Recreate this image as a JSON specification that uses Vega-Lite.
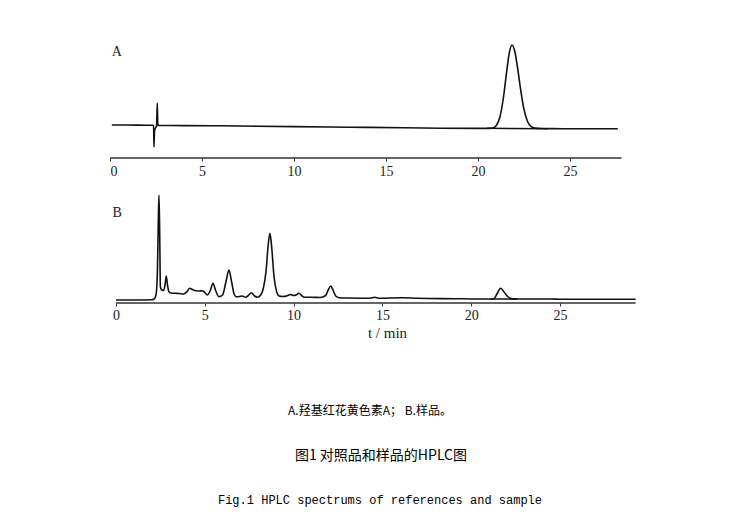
{
  "$schema": "https://vega.github.io/schema/vega-lite/v6.json",
  "background": "white",
  "padding": {"left": 108, "top": 40, "right": 5, "bottom": 5},
  "bounds": "flush",
  "spacing": 32,
  "config": {"view": {"stroke": null}, "font": "Liberation Serif"},
  "vconcat": [
    {
      "width": 526,
      "height": 118,
      "layer": [
        {
          "data": {"values": [{"t0": 0, "t1": 27.8, "v": 0}]},
          "mark": {"type": "rule", "color": "#333", "strokeWidth": 1.3},
          "encoding": {
            "x": {"field": "t0", "type": "quantitative", "scale": {"domain": [0, 28.59], "nice": false, "zero": false},
              "axis": {"values": [0, 5, 10, 15, 20, 25], "domain": false, "grid": false, "tickSize": 3, "tickColor": "#333", "labelFont": "Liberation Serif", "labelFontSize": 14, "labelColor": "#222", "labelPadding": 3, "title": null}},
            "x2": {"field": "t1"},
            "y": {"field": "v", "type": "quantitative", "scale": {"domain": [0, 118], "nice": false}, "axis": null}
          }
        },
        {
          "data": {"values": [
            {"s": "trace", "t": 0.1, "v": 33}, {"s": "trace", "t": 1.0, "v": 33}, {"s": "trace", "t": 2.0, "v": 32.8},
            {"s": "trace", "t": 2.3, "v": 32.8}, {"s": "trace", "t": 2.37, "v": 32.6}, {"s": "trace", "t": 2.39, "v": 11},
            {"s": "trace", "t": 2.42, "v": 27}, {"s": "trace", "t": 2.47, "v": 30}, {"s": "trace", "t": 2.53, "v": 32},
            {"s": "trace", "t": 2.57, "v": 55}, {"s": "trace", "t": 2.6, "v": 33}, {"s": "trace", "t": 2.7, "v": 32.5},
            {"s": "trace", "t": 4, "v": 32.4}, {"s": "trace", "t": 6, "v": 32.2}, {"s": "trace", "t": 8, "v": 31.8},
            {"s": "trace", "t": 10, "v": 31.4}, {"s": "trace", "t": 12, "v": 31}, {"s": "trace", "t": 14, "v": 30.6},
            {"s": "trace", "t": 16, "v": 30.2}, {"s": "trace", "t": 18, "v": 29.8}, {"s": "trace", "t": 20, "v": 29.6},
            {"s": "trace", "t": 20.6, "v": 29.6}, {"s": "trace", "t": 20.8, "v": 30.0}, {"s": "trace", "t": 21.0, "v": 32.5},
            {"s": "trace", "t": 21.2, "v": 41.5}, {"s": "trace", "t": 21.4, "v": 62.5}, {"s": "trace", "t": 21.55, "v": 84.8},
            {"s": "trace", "t": 21.7, "v": 104.8}, {"s": "trace", "t": 21.85, "v": 113}, {"s": "trace", "t": 22.0, "v": 106.7},
            {"s": "trace", "t": 22.15, "v": 90.6}, {"s": "trace", "t": 22.3, "v": 70.9}, {"s": "trace", "t": 22.5, "v": 48.8},
            {"s": "trace", "t": 22.7, "v": 36.3}, {"s": "trace", "t": 22.9, "v": 31.3}, {"s": "trace", "t": 23.1, "v": 29.9},
            {"s": "trace", "t": 23.5, "v": 29.5}, {"s": "trace", "t": 24, "v": 29.4}, {"s": "trace", "t": 26, "v": 29.2},
            {"s": "trace", "t": 27.6, "v": 29.2},
            {"s": "base", "t": 20.5, "v": 29.7}, {"s": "base", "t": 23.8, "v": 29.2}
          ]},
          "mark": {"type": "line", "color": "#111", "strokeWidth": 1.6, "interpolate": "monotone"},
          "encoding": {
            "x": {"field": "t", "type": "quantitative"},
            "y": {"field": "v", "type": "quantitative"},
            "detail": {"field": "s"}
          }
        },
        {
          "data": {"values": [{"label": "A"}]},
          "mark": {"type": "text", "font": "Liberation Serif", "fontSize": 14, "align": "left", "baseline": "middle", "color": "#222"},
          "encoding": {
            "x": {"datum": 0.1, "type": "quantitative"},
            "y": {"datum": 106, "type": "quantitative"},
            "text": {"field": "label"}
          }
        }
      ]
    },
    {
      "width": 526,
      "height": 113,
      "layer": [
        {
          "data": {"values": [{"t0": 0, "t1": 29.26, "v": 0}]},
          "mark": {"type": "rule", "color": "#333", "strokeWidth": 1.5},
          "encoding": {
            "x": {"field": "t0", "type": "quantitative", "scale": {"domain": [-0.338, 29.28], "nice": false, "zero": false},
              "axis": {"values": [0, 5, 10, 15, 20, 25], "domain": false, "grid": false, "tickSize": 3, "tickColor": "#333", "labelFont": "Liberation Serif", "labelFontSize": 14, "labelColor": "#222", "labelPadding": 2,
                "title": "t / min", "titleFont": "Liberation Serif", "titleFontSize": 15, "titleFontWeight": "normal", "titleColor": "#222", "titlePadding": 3, "titleX": 277}},
            "x2": {"field": "t1"},
            "y": {"field": "v", "type": "quantitative", "scale": {"domain": [0, 113], "nice": false}, "axis": null}
          }
        },
        {
          "data": {"values": [
            {"s": "trace", "t": 0, "v": 3}, {"s": "trace", "t": 1.0, "v": 3}, {"s": "trace", "t": 2.0, "v": 3.2},
            {"s": "trace", "t": 2.15, "v": 4}, {"s": "trace", "t": 2.25, "v": 8}, {"s": "trace", "t": 2.33, "v": 30},
            {"s": "trace", "t": 2.38, "v": 80}, {"s": "trace", "t": 2.42, "v": 108}, {"s": "trace", "t": 2.46, "v": 70},
            {"s": "trace", "t": 2.5, "v": 16}, {"s": "trace", "t": 2.58, "v": 13}, {"s": "trace", "t": 2.68, "v": 12.5},
            {"s": "trace", "t": 2.76, "v": 18}, {"s": "trace", "t": 2.83, "v": 27}, {"s": "trace", "t": 2.9, "v": 18},
            {"s": "trace", "t": 2.98, "v": 11.3}, {"s": "trace", "t": 3.1, "v": 10}, {"s": "trace", "t": 3.3, "v": 9.7},
            {"s": "trace", "t": 3.55, "v": 9.5}, {"s": "trace", "t": 3.8, "v": 9}, {"s": "trace", "t": 4.0, "v": 11.5},
            {"s": "trace", "t": 4.15, "v": 14.7}, {"s": "trace", "t": 4.3, "v": 13.5}, {"s": "trace", "t": 4.5, "v": 12.3},
            {"s": "trace", "t": 4.7, "v": 12}, {"s": "trace", "t": 4.86, "v": 12.3}, {"s": "trace", "t": 5.0, "v": 10.5},
            {"s": "trace", "t": 5.14, "v": 8}, {"s": "trace", "t": 5.3, "v": 12}, {"s": "trace", "t": 5.46, "v": 19.7},
            {"s": "trace", "t": 5.6, "v": 13}, {"s": "trace", "t": 5.8, "v": 6.3}, {"s": "trace", "t": 6.0, "v": 8},
            {"s": "trace", "t": 6.2, "v": 22}, {"s": "trace", "t": 6.36, "v": 33}, {"s": "trace", "t": 6.5, "v": 22},
            {"s": "trace", "t": 6.65, "v": 9}, {"s": "trace", "t": 6.78, "v": 6.3}, {"s": "trace", "t": 6.95, "v": 6.5},
            {"s": "trace", "t": 7.11, "v": 7}, {"s": "trace", "t": 7.3, "v": 5.7}, {"s": "trace", "t": 7.45, "v": 7.5},
            {"s": "trace", "t": 7.62, "v": 10.3}, {"s": "trace", "t": 7.8, "v": 7}, {"s": "trace", "t": 7.96, "v": 5.7},
            {"s": "trace", "t": 8.15, "v": 8}, {"s": "trace", "t": 8.3, "v": 15}, {"s": "trace", "t": 8.45, "v": 32},
            {"s": "trace", "t": 8.57, "v": 58}, {"s": "trace", "t": 8.67, "v": 69.7}, {"s": "trace", "t": 8.77, "v": 55},
            {"s": "trace", "t": 8.9, "v": 26}, {"s": "trace", "t": 9.05, "v": 11}, {"s": "trace", "t": 9.18, "v": 7},
            {"s": "trace", "t": 9.4, "v": 6.5}, {"s": "trace", "t": 9.6, "v": 7}, {"s": "trace", "t": 9.83, "v": 8.5},
            {"s": "trace", "t": 10.0, "v": 7.5}, {"s": "trace", "t": 10.15, "v": 8}, {"s": "trace", "t": 10.3, "v": 9.7},
            {"s": "trace", "t": 10.45, "v": 7.5}, {"s": "trace", "t": 10.6, "v": 5.7}, {"s": "trace", "t": 11.0, "v": 5.7},
            {"s": "trace", "t": 11.5, "v": 5.5}, {"s": "trace", "t": 11.8, "v": 7.5}, {"s": "trace", "t": 11.95, "v": 13},
            {"s": "trace", "t": 12.09, "v": 17}, {"s": "trace", "t": 12.22, "v": 13}, {"s": "trace", "t": 12.37, "v": 7},
            {"s": "trace", "t": 12.56, "v": 5.3}, {"s": "trace", "t": 13, "v": 5}, {"s": "trace", "t": 14.3, "v": 4.8},
            {"s": "trace", "t": 14.57, "v": 5.7}, {"s": "trace", "t": 14.8, "v": 4.8}, {"s": "trace", "t": 16.1, "v": 5.2},
            {"s": "trace", "t": 17, "v": 4.7}, {"s": "trace", "t": 19, "v": 4.3}, {"s": "trace", "t": 20.5, "v": 4},
            {"s": "trace", "t": 21.1, "v": 4}, {"s": "trace", "t": 21.28, "v": 4.2}, {"s": "trace", "t": 21.45, "v": 9},
            {"s": "trace", "t": 21.66, "v": 14.7}, {"s": "trace", "t": 21.85, "v": 11}, {"s": "trace", "t": 22.05, "v": 6.5},
            {"s": "trace", "t": 22.32, "v": 4.3}, {"s": "trace", "t": 22.8, "v": 4}, {"s": "trace", "t": 24.5, "v": 4},
            {"s": "trace", "t": 25, "v": 3.8}, {"s": "trace", "t": 27, "v": 3.7}, {"s": "trace", "t": 29.26, "v": 3.8},
            {"s": "base", "t": 21.1, "v": 4.0}, {"s": "base", "t": 22.6, "v": 3.9}
          ]},
          "mark": {"type": "line", "color": "#111", "strokeWidth": 1.6, "interpolate": "monotone"},
          "encoding": {
            "x": {"field": "t", "type": "quantitative"},
            "y": {"field": "v", "type": "quantitative"},
            "detail": {"field": "s"}
          }
        },
        {
          "data": {"values": [{"label": "B"}]},
          "mark": {"type": "text", "font": "Liberation Serif", "fontSize": 14, "align": "left", "baseline": "middle", "color": "#222"},
          "encoding": {
            "x": {"datum": -0.2, "type": "quantitative"},
            "y": {"datum": 90, "type": "quantitative"},
            "text": {"field": "label"}
          }
        }
      ]
    },
    {
      "width": 526,
      "height": 178,
      "layer": [
        {
          "data": {"values": [{"line": 1, "caption": "A.羟基红花黄色素A；  B.样品。"}]},
          "mark": {"type": "text", "font": "Noto Sans CJK SC", "fontSize": 12, "color": "#000", "dx": -3, "baseline": "middle"},
          "encoding": {
            "y": {"field": "line", "type": "ordinal", "scale": {"type": "point", "domain": [1, 2, 3], "padding": 1.046, "align": 0.857}, "axis": null},
            "text": {"field": "caption"}
          }
        },
        {
          "data": {"values": [{"line": 2, "caption": "图1 对照品和样品的HPLC图"}]},
          "mark": {"type": "text", "font": "Noto Sans CJK SC", "fontSize": 14, "color": "#000", "dx": 8, "baseline": "middle"},
          "encoding": {
            "y": {"field": "line", "type": "ordinal", "axis": null},
            "text": {"field": "caption"}
          }
        },
        {
          "data": {"values": [{"line": 3, "caption": "Fig.1 HPLC spectrums of references and sample"}]},
          "mark": {"type": "text", "font": "Liberation Mono", "fontSize": 12, "color": "#000", "dx": 7, "baseline": "middle"},
          "encoding": {
            "y": {"field": "line", "type": "ordinal", "axis": null},
            "text": {"field": "caption"}
          }
        }
      ]
    }
  ]
}
